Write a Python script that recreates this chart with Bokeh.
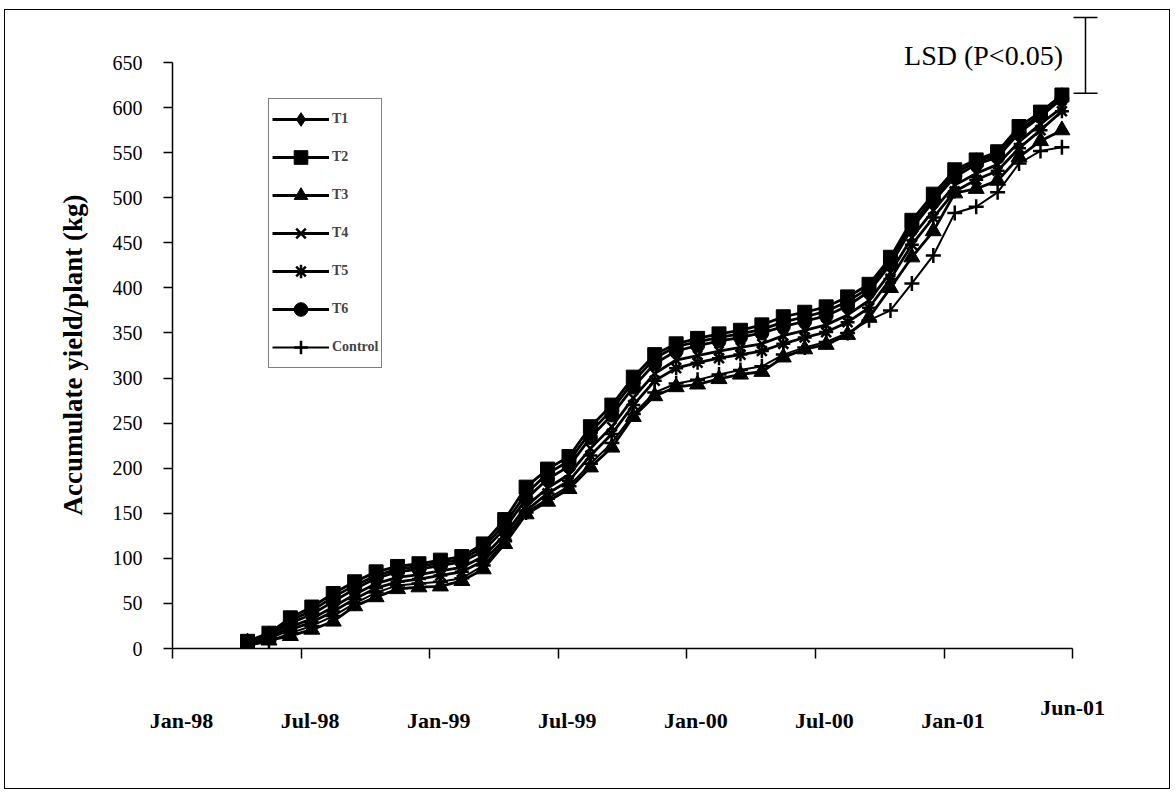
import pandas as pd
from bokeh.plotting import figure
from bokeh.models import (ColumnDataSource, FixedTicker, Legend, LegendItem, Label, Title,
                          Whisker, TeeHead, Range1d, LinearAxis)
from bokeh.embed import file_html
from bokeh.resources import INLINE

# ---------------- data ----------------
months = [str(m) for m in pd.period_range("1998-04", "2001-06", freq="M")]  # monthly harvests

T1 = [7, 15, 31, 42, 57, 70, 81, 88, 91, 95, 99, 112, 138, 172, 194, 208, 240, 265, 296, 322,
      335, 340, 345, 349, 354, 362, 368, 374, 385, 400, 430, 470, 500, 527, 540, 548, 575, 592, 612]
T2 = [8, 17, 34, 46, 61, 74, 85, 91, 94, 98, 102, 116, 143, 179, 199, 213, 246, 270, 301, 326,
      338, 344, 349, 353, 359, 368, 373, 379, 390, 404, 434, 475, 504, 531, 542, 551, 579, 595, 614]
T3 = [3, 9, 14, 21, 30, 47, 57, 66, 68, 69, 75, 88, 116, 149, 163, 177, 201, 223, 257, 280,
      290, 293, 299, 304, 307, 323, 332, 337, 348, 367, 400, 434, 463, 505, 510, 519, 545, 563, 575]
T4 = [5, 12, 24, 33, 46, 60, 72, 79, 82, 86, 90, 102, 126, 158, 178, 193, 222, 246, 278, 305,
      320, 325, 330, 334, 338, 347, 353, 359, 370, 386, 417, 456, 486, 514, 527, 537, 562, 582, 600]
T5 = [4, 11, 21, 29, 41, 55, 67, 74, 77, 81, 85, 97, 121, 153, 172, 186, 214, 238, 270, 297,
      311, 317, 322, 326, 330, 338, 345, 351, 362, 378, 410, 448, 478, 507, 520, 530, 555, 575, 596]
T6 = [6, 14, 28, 38, 52, 66, 78, 85, 88, 92, 96, 108, 133, 166, 188, 202, 234, 259, 290, 316,
      330, 336, 341, 345, 350, 357, 363, 369, 380, 396, 426, 466, 496, 523, 537, 545, 572, 590, 610]
Control = [3, 8, 17, 25, 36, 50, 62, 70, 72, 74, 78, 92, 119, 151, 166, 180, 205, 228, 260, 284,
           294, 298, 304, 309, 313, 326, 334, 340, 350, 364, 375, 405, 436, 483, 490, 506, 538, 552, 556]

series_names = ["T1", "T2", "T3", "T4", "T5", "T6", "Control"]
series_values = [T1, T2, T3, T4, T5, T6, Control]
series_markers = ["diamond", "square", "triangle", "x", "asterisk", "circle", "cross"]

x_tick_labels = ["Jan-98", "Jul-98", "Jan-99", "Jul-99", "Jan-00", "Jul-00", "Jan-01", "Jun-01"]
x_tick_months = [0, 6, 12, 18, 24, 30, 36, 42]          # months after Jan-98
y_ticks = list(range(0, 651, 50))
y_title = "Accumulate yield/plant (kg)"

lsd_value = 84        # LSD (P<0.05), kg
lsd_base = 616
lsd_month = 42.6

LABEL_SHIFT = 0.42    # style: date labels sit slightly right of their ticks, as in the original


def month_pos(m):
    """months after Jan-98, mid-month"""
    y, mo = m.split("-")
    return (int(y) - 1998) * 12 + int(mo) - 1 + 0.5


xpos = [month_pos(m) for m in months]

FONT = "Liberation Serif"

p = figure(width=1166, height=780, output_backend="svg", toolbar_location=None,
           x_range=Range1d(0, 44.7), y_range=Range1d(0, 705.5),
           min_border_left=167, min_border_right=41, min_border_top=2, min_border_bottom=142,
           background_fill_color="white", border_fill_color="white")
p.xgrid.visible = False
p.ygrid.visible = False
p.outline_line_color = None
p.styles = {"border": "1px solid black", "margin": "9px 0 0 4px"}

# ---------------- series ----------------
sizes = {"diamond": 18, "square": 14, "triangle": 16, "x": 13, "asterisk": 14, "circle": 14, "cross": 15}
items = []
for name, vals, mk in zip(series_names, series_values, series_markers):
    src = ColumnDataSource(dict(x=xpos, y=vals))
    lw = 2.0 if name == "Control" else 2.8
    lr = p.line("x", "y", source=src, line_color="black", line_width=lw)
    sr = p.scatter("x", "y", source=src, marker=mk, size=sizes[mk],
                   fill_color="black", line_color="black",
                   line_width=2.5 if mk in ("x", "asterisk", "cross") else 1)
    items.append(LegendItem(label=name, renderers=[lr, sr]))

legend = Legend(items=items, location=(96, 280), orientation="vertical",
                border_line_color="black", border_line_width=1.5,
                background_fill_color="white", background_fill_alpha=1,
                label_text_font=FONT, label_text_font_style="bold", label_text_font_size="14px",
                glyph_width=57, glyph_height=34, label_height=34, spacing=4,
                padding=3, margin=0, label_standoff=3)
p.add_layout(legend)

# ---------------- x axes ----------------
# inner axis: line, all ticks, and only the raised last label ("Jun-01")
xa = p.xaxis[0]
xa.bounds = (0, 42)
xa.ticker = FixedTicker(ticks=x_tick_months)
xa.major_label_overrides = {m: (lab if m == x_tick_months[-1] else "")
                            for m, lab in zip(x_tick_months, x_tick_labels)}
xa.major_label_text_font = FONT
xa.major_label_text_font_style = "bold"
xa.major_label_text_font_size = "22px"
xa.major_label_text_color = "black"
xa.major_tick_out = 10
xa.major_tick_in = 0
xa.minor_tick_out = 0
xa.minor_tick_in = 0
xa.major_label_standoff = 36
xa.axis_line_color = "black"
xa.axis_line_width = 1.5
xa.major_tick_line_width = 1.5

# outer axis: the remaining date labels (no line, no ticks)
label_pos = [m + LABEL_SHIFT for m in x_tick_months[:-1]]
xb = LinearAxis(ticker=FixedTicker(ticks=label_pos),
                major_label_overrides={lp: lab for lp, lab in zip(label_pos, x_tick_labels[:-1])},
                axis_line_color=None, major_tick_line_color=None, minor_tick_line_color=None,
                major_tick_out=0, major_tick_in=0, minor_tick_out=0, minor_tick_in=0,
                major_label_standoff=-15,
                major_label_text_font=FONT, major_label_text_font_style="bold",
                major_label_text_font_size="22px", major_label_text_color="black")
p.add_layout(xb, "below")

# ---------------- y axis ----------------
ya = p.yaxis[0]
ya.bounds = (0, 650)
ya.ticker = FixedTicker(ticks=y_ticks)
ya.major_label_text_font = FONT
ya.major_label_text_font_size = "20px"
ya.major_label_text_color = "black"
ya.major_tick_out = 9
ya.major_tick_in = 0
ya.minor_tick_out = 0
ya.minor_tick_in = 0
ya.major_label_standoff = 21
ya.axis_line_color = "black"
ya.axis_line_width = 1.5
ya.major_tick_line_width = 1.5

p.add_layout(Title(text=y_title, align="left", offset=133, standoff=43,
                   text_font=FONT, text_font_style="bold", text_font_size="27px",
                   text_color="black"), "left")

# ---------------- LSD bar ----------------
lsd_src = ColumnDataSource(dict(base=[lsd_month], lower=[lsd_base], upper=[lsd_base + lsd_value]))
p.add_layout(Whisker(base="base", lower="lower", upper="upper", source=lsd_src,
                     dimension="height", line_color="black", line_width=1.5,
                     upper_head=TeeHead(size=24, line_width=1.5, line_color="black"),
                     lower_head=TeeHead(size=24, line_width=1.5, line_color="black")))
p.add_layout(Label(x=41.55, y=lsd_base + lsd_value / 2, text="LSD (P<0.05)",
                   text_align="right", text_baseline="middle",
                   text_font=FONT, text_font_size="28px", text_color="black"))

open("out.html", "w").write(file_html(p, INLINE))
